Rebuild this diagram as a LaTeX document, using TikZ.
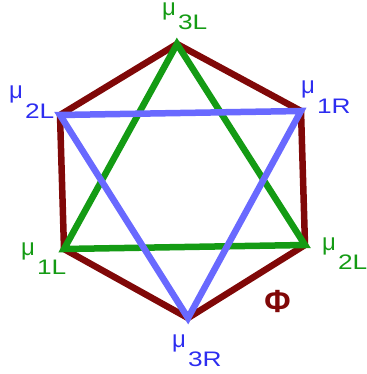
\documentclass[tikz,border=0pt]{standalone}
\usepackage{fontspec}
\setmainfont{Liberation Sans}
\definecolor{hexred}{RGB}{128,8,8}
\definecolor{trigreen}{RGB}{20,155,20}
\definecolor{triblue}{RGB}{105,105,255}
\definecolor{labblue}{RGB}{45,45,240}
\newcommand{\mulab}[2][19.5pt]{\smash{\fontsize{24}{24}\selectfont μ}\hspace{2pt}\raisebox{-#1}{\fontsize{21}{21}\selectfont\scalebox{1.25}[1]{#2}}}
\begin{document}
\begin{tikzpicture}[x=1pt,y=-1pt,
  hexline/.style={draw=hexred,line width=6.5pt,line join=miter},
  gline/.style={draw=trigreen,line width=6.5pt,line join=miter},
  bline/.style={draw=triblue,line width=6.5pt,line join=miter},
  lab/.style={inner sep=0pt,anchor=base west}]
\useasboundingbox (0,0) rectangle (366,374);
\coordinate (T) at (177,44);
\coordinate (UL) at (60,115);
\coordinate (UR) at (301,111);
\coordinate (LR) at (305,245);
\coordinate (B) at (188,318);
\coordinate (LL) at (64,249);
\draw[hexline] (T) -- (UR) -- (LR) -- (B) -- (LL) -- (UL) -- cycle;
\draw[gline] (T) -- (LR) -- (LL) -- cycle;
\draw[bline] (UL) -- (UR) -- (B) -- cycle;
\node[lab,text=trigreen] (l3L) at (162,16) {\mulab[13.5pt]{3L}};
\node[lab,text=labblue] (l2Lu) at (9,99) {\mulab{2L}};
\node[lab,text=labblue] (l1R) at (301,94) {\mulab{1R}};
\node[lab,text=trigreen] (l1L) at (21,255) {\mulab{1L}};
\node[lab,text=trigreen] (l2Ld) at (322,250) {\mulab{2L}};
\node[lab,text=labblue] (l3R) at (172,347) {\mulab{3R}};
\node[inner sep=0pt,text=hexred,font=\fontsize{32}{32}\selectfont\bfseries] (phi) at (277.5,301) {Φ};
\end{tikzpicture}
\end{document}
